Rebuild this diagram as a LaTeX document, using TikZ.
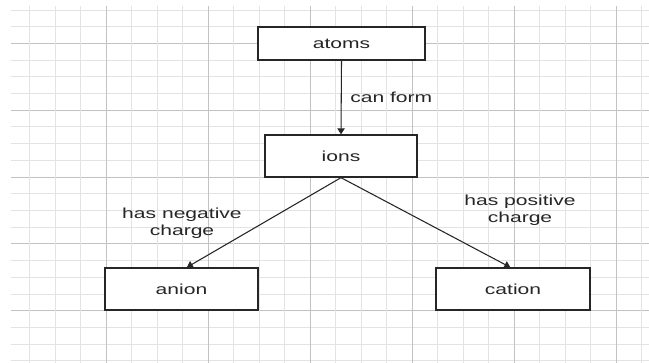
\documentclass[tikz,border=0pt]{standalone}
\usepackage{fontspec}
\setmainfont[FakeStretch=1.45]{Liberation Sans}
\usetikzlibrary{arrows.meta}
\begin{document}
\begin{tikzpicture}[x=0.75pt,y=-0.75pt,
  txt/.style={text=black!85, font=\fontsize{10.9}{12.75}\selectfont},
  box/.style={txt, draw=black!85, line width=1pt, fill=white, inner sep=0pt},
  lbl/.style={txt, inner sep=0pt, align=center},
  conn/.style={draw=black!85, line width=0.8pt, -{Triangle[length=4.5pt,width=5.5pt]}},
  minorline/.style={draw=black!11, line width=0.6pt},
  majorline/.style={draw=black!24, line width=0.7pt}]
\fill[white] (0,0) rectangle (649,363);
\useasboundingbox (0,0) rectangle (649,363);
% grid
\foreach \k in {0,...,21} {
  \pgfmathsetmacro\yy{10+16.7*\k}
  \pgfmathtruncatemacro\m{mod(\k,4)}
  \ifnum\m=2 \draw[majorline] (11,\yy) -- (649,\yy); \else \draw[minorline] (11,\yy) -- (649,\yy); \fi
}
\foreach \k in {0,...,24} {
  \pgfmathsetmacro\xx{29.5+25.5*\k}
  \pgfmathtruncatemacro\m{mod(\k,4)}
  \ifnum\m=3 \draw[majorline] (\xx,6) -- (\xx,363); \else \draw[minorline] (\xx,6) -- (\xx,363); \fi
}
% nodes
\node[box, minimum width=125.25pt, minimum height=24.75pt] (atoms) at (341.5,43.5) {atoms};
\node[box, minimum width=114pt, minimum height=31.5pt] (ions) at (341,156) {ions};
\node[box, minimum width=114.75pt, minimum height=31.5pt] (anion) at (181.5,289) {anion};
\node[box, minimum width=115.5pt, minimum height=31.5pt] (cation) at (513,289) {cation};
% connectors
\draw[conn] (atoms.south) -- (ions.north);
\draw[conn] (ions.south) -- ([xshift=4pt]anion.north);
\draw[conn] (ions.south) -- ([xshift=-2pt]cation.north);
% labels
\node[lbl, anchor=west] (canform) at (350,97) {can form};
\node[lbl] (neg) at (182,223) {has negative\\charge};
\node[lbl] (pos) at (520,210) {has positive\\charge};
\end{tikzpicture}
\end{document}
